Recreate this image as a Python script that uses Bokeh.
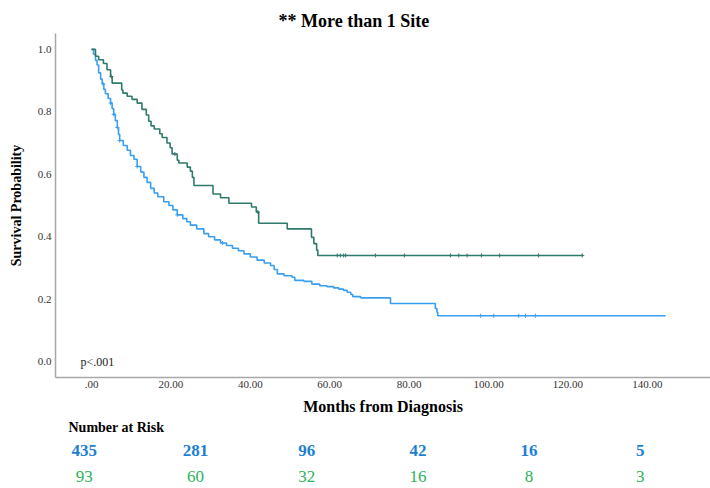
from bokeh.plotting import figure
from bokeh.models import Range1d, FixedTicker, NumeralTickFormatter, Label, LinearAxis, Title
from bokeh.embed import file_html
from bokeh.resources import INLINE
import numpy as np

# ---------------- data ----------------
title_text = "** More than 1 Site"
x_label = "Months from Diagnosis"
y_label = "Survival Probability"
x_ticks = [0, 20, 40, 60, 80, 100, 120, 140]
x_tick_labels = [".00", "20.00", "40.00", "60.00", "80.00", "100.00", "120.00", "140.00"]
y_ticks = [0.0, 0.2, 0.4, 0.6, 0.8, 1.0]
p_text = "p<.001"

# green group (n = 93): event times (months) and survival after each event
green_time = [0.0, 1.0, 1.8, 3.0, 3.9, 4.8, 5.2, 7.6, 7.9, 9.0, 10.2, 11.5, 12.7, 13.8,
              14.4, 15.0, 15.8, 17.2, 17.8, 19.0, 19.8, 20.3, 21.6, 22.0, 24.1, 24.9,
              25.4, 25.8, 30.6, 32.5, 34.6, 40.3, 41.5, 42.1, 49.3, 55.4, 56.0, 56.7, 57.0]
green_surv = [1.0, 0.978, 0.967, 0.955, 0.935, 0.913, 0.892, 0.870, 0.860, 0.850, 0.840,
              0.828, 0.808, 0.790, 0.770, 0.755, 0.745, 0.730, 0.718, 0.700, 0.685, 0.665,
              0.645, 0.636, 0.623, 0.610, 0.590, 0.564, 0.537, 0.525, 0.507, 0.495, 0.479,
              0.443, 0.425, 0.398, 0.378, 0.357, 0.340]
green_end = 123.7
green_censor = [5.0, 21.0, 41.9, 61.9, 62.7, 63.5, 64.0, 71.5, 78.8, 90.4, 92.5, 94.6,
                98.2, 102.8, 112.6, 123.6]

# blue group (n = 435)
blue_time = [0.0, 0.5, 1.0, 1.4, 1.8, 2.3, 2.7, 3.1, 3.5, 4.2, 4.8, 5.2, 5.6, 6.0, 6.5,
             6.8, 7.1, 8.0, 9.0, 9.8, 10.7, 11.5, 12.4, 13.2, 14.0, 14.9, 15.8, 16.7, 18.2,
             19.5, 20.5, 21.6, 23.0, 24.0, 24.9, 26.5, 28.3, 29.5, 31.0, 32.5, 34.0, 35.5,
             37.0, 38.4, 40.0, 41.7, 43.5, 45.1, 46.0, 46.8, 48.5, 50.5, 51.2, 53.5, 55.5,
             57.5, 59.3, 61.0, 62.3, 63.5, 64.4, 65.3, 65.8, 67.8, 75.3, 86.6, 87.0, 87.2]
blue_surv = [1.0, 0.985, 0.965, 0.950, 0.925, 0.905, 0.890, 0.872, 0.858, 0.843, 0.828,
             0.810, 0.792, 0.772, 0.750, 0.728, 0.708, 0.692, 0.677, 0.660, 0.648, 0.625,
             0.607, 0.590, 0.574, 0.555, 0.540, 0.528, 0.512, 0.500, 0.486, 0.470, 0.458,
             0.448, 0.437, 0.425, 0.410, 0.400, 0.390, 0.380, 0.372, 0.363, 0.355, 0.345,
             0.335, 0.325, 0.316, 0.308, 0.295, 0.281, 0.275, 0.270, 0.260, 0.257, 0.248,
             0.243, 0.240, 0.236, 0.232, 0.228, 0.222, 0.215, 0.208, 0.204, 0.186, 0.170,
             0.158, 0.147]
blue_end = 144.6
blue_censor = [2.9, 4.8, 5.6, 6.5, 7.1, 11.5, 21.6, 33.0, 98.0, 101.3, 107.6, 109.3, 111.8]

risk_title = "Number at Risk"
risk_times = [0, 28, 56, 84, 112, 140]
risk_blue = [435, 281, 96, 42, 16, 5]
risk_green = [93, 60, 32, 16, 8, 3]

# ---------------- styling ----------------
SERIF = "Liberation Serif"
BLUE = "#3a9ff0"
GREEN = "#2f7a6c"
AXIS_GRAY = "#a8a8a8"
X_START, X_END = -9.07, 155.9
RISK_SHIFT = 1.8  # the risk table columns sit slightly left of the axis ticks

p = figure(width=710, height=488, output_backend="svg", toolbar_location=None,
           x_range=Range1d(X_START, X_END), y_range=Range1d(-0.051, 1.051),
           min_border_left=55, min_border_right=0, min_border_top=33, min_border_bottom=111,
           title=title_text)
p.outline_line_color = None
p.xgrid.visible = False
p.ygrid.visible = False
p.background_fill_color = "white"
p.border_fill_color = "white"

p.title.text_font = SERIF
p.title.text_font_size = "18px"
p.title.text_font_style = "bold"
p.title.text_color = "black"
p.title.align = "left"
p.title.offset = 223
p.title.standoff = 5

for ax in (p.xaxis[0], p.yaxis[0]):
    ax.major_tick_line_color = None
    ax.minor_tick_line_color = None
    ax.major_tick_out = 0
    ax.major_tick_in = 0
    ax.minor_tick_out = 0
    ax.axis_line_color = AXIS_GRAY
    ax.axis_line_width = 1.5
    ax.major_label_text_font = SERIF
    ax.major_label_text_font_size = "11px"
    ax.major_label_text_color = "#333333"
    ax.axis_label_text_font = SERIF
    ax.axis_label_text_font_style = "bold"
    ax.axis_label_text_color = "black"

p.xaxis.ticker = FixedTicker(ticks=x_ticks)
p.xaxis.major_label_overrides = dict(zip(x_ticks, x_tick_labels))
p.xaxis.axis_label = x_label
p.xaxis.axis_label_text_font_size = "16px"
p.xaxis.axis_label_standoff = 7
p.xaxis.major_label_standoff = 3

p.yaxis.ticker = FixedTicker(ticks=y_ticks)
p.yaxis.formatter = NumeralTickFormatter(format="0.0")
p.yaxis.axis_label = y_label
p.yaxis.axis_label_text_font_size = "14px"
p.yaxis.axis_label_standoff = 11
p.yaxis.major_label_standoff = 4


def step_arrays(t, s, end):
    return list(t) + [end], list(s) + [s[-1]]


def censor_y(t, s, c):
    t = np.asarray(t)
    s = np.asarray(s)
    idx = np.searchsorted(t, np.asarray(c), side="right") - 1
    return s[idx]


gx, gy = step_arrays(green_time, green_surv, green_end)
bx, by = step_arrays(blue_time, blue_surv, blue_end)

p.step(bx, by, mode="after", line_color=BLUE, line_width=1.6)
p.step(gx, gy, mode="after", line_color=GREEN, line_width=1.6)
p.scatter(blue_censor, censor_y(blue_time, blue_surv, blue_censor), marker="cross",
          size=4, line_color=BLUE, line_width=1)
p.scatter(green_censor, censor_y(green_time, green_surv, green_censor), marker="cross",
          size=4, line_color=GREEN, line_width=1)

p.add_layout(Label(x=-2.8, y=0.0, text=p_text, text_align="left", text_baseline="middle",
                   text_font=SERIF, text_font_size="12px", text_color="#222222"))

# ---------------- number at risk table (below the x axis) ----------------
p.extra_x_ranges = {"risk": Range1d(X_START + RISK_SHIFT, X_END + RISK_SHIFT)}

p.add_layout(Title(text=risk_title, align="left", offset=13, standoff=0,
                   text_font=SERIF, text_font_size="14px", text_font_style="bold",
                   text_color="black"), "below")


def risk_axis(counts, color, style, standoff):
    ax = LinearAxis(x_range_name="risk", ticker=FixedTicker(ticks=risk_times),
                    major_label_overrides={t: str(n) for t, n in zip(risk_times, counts)})
    ax.axis_line_color = None
    ax.major_tick_line_color = None
    ax.minor_tick_line_color = None
    ax.major_tick_out = 0
    ax.major_tick_in = 0
    ax.minor_tick_out = 0
    ax.major_label_standoff = standoff
    ax.major_label_text_font = SERIF
    ax.major_label_text_font_size = "17px"
    ax.major_label_text_font_style = style
    ax.major_label_text_color = color
    return ax


p.add_layout(risk_axis(risk_blue, "#1c7fd4", "bold", 10), "below")
p.add_layout(risk_axis(risk_green, "#2bb25a", "normal", 12), "below")

open("out.html", "w").write(file_html(p, INLINE))
